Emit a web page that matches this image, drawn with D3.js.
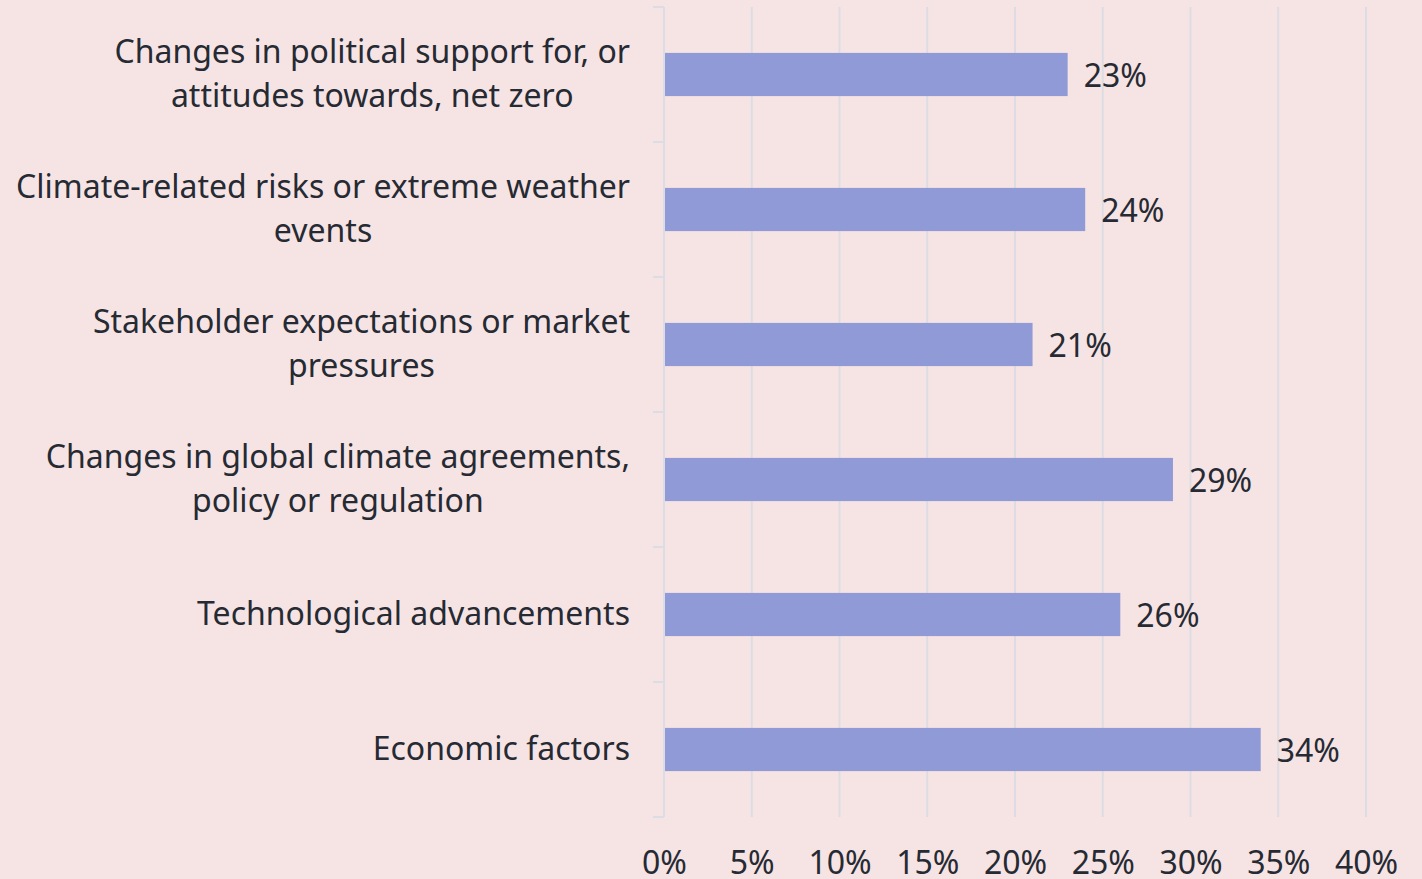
<!DOCTYPE html>
<html>
<head>
<meta charset="utf-8">
<script src="https://cdn.jsdelivr.net/npm/d3@7"></script>
<style>
  html, body { margin: 0; padding: 0; background: #f6e4e4; }
  svg { display: block; font-family: "Noto Sans", "Open Sans", sans-serif; }
</style>
</head>
<body>
<svg id="canvas"></svg>
<script>
let categories = [
    ['Changes in political support for, or', 'attitudes towards, net zero'],
    ['Climate-related risks or extreme weather', 'events'],
    ['Stakeholder expectations or market', 'pressures'],
    ['Changes in global climate agreements,', 'policy or regulation'],
    ['Technological advancements'],
    ['Economic factors']
]
let values = [23, 24, 21, 29, 26, 34]
let xTicks = [0, 5, 10, 15, 20, 25, 30, 35, 40]

let width = 1422
let height = 879
let plotLeft = 664
let plotRight = 1366
let plotTop = 7
let plotBottom = 817
let fontSize = 32

let canvas = d3.select('#canvas')
canvas.attr('width', width).attr('height', height)

let xScale = d3.scaleLinear()
    .domain([0, 40])
    .range([plotLeft, plotRight])
let yScale = d3.scaleBand()
    .domain(d3.range(values.length))
    .range([plotTop, plotBottom])
    .paddingInner(0.68)
    .paddingOuter(0.34)

// gridlines
canvas.append('g')
    .selectAll('line')
    .data(xTicks)
    .enter()
    .append('line')
    .attr('x1', (d) => xScale(d))
    .attr('x2', (d) => xScale(d))
    .attr('y1', plotTop)
    .attr('y2', plotBottom)
    .attr('stroke', '#dcdde4')
    .attr('stroke-width', 2)

// category axis with ticks at band boundaries
let step = yScale.step()
let boundaries = d3.range(values.length + 1).map((i) => plotTop + i * step)
canvas.append('line')
    .attr('x1', plotLeft).attr('x2', plotLeft)
    .attr('y1', plotTop).attr('y2', plotBottom)
    .attr('stroke', '#dcdde4')
    .attr('stroke-width', 2)
canvas.append('g')
    .selectAll('line')
    .data(boundaries)
    .enter()
    .append('line')
    .attr('x1', plotLeft - 11)
    .attr('x2', plotLeft)
    .attr('y1', (d) => d)
    .attr('y2', (d) => d)
    .attr('stroke', '#dcdde4')
    .attr('stroke-width', 2)

// bars
canvas.append('g')
    .selectAll('rect')
    .data(values)
    .enter()
    .append('rect')
    .attr('x', xScale(0) + 1)
    .attr('y', (d, i) => yScale(i))
    .attr('width', (d) => xScale(d) - xScale(0) - 1)
    .attr('height', yScale.bandwidth())
    .attr('fill', '#8f9ad7')

// value labels
canvas.append('g')
    .selectAll('text')
    .data(values)
    .enter()
    .append('text')
    .attr('x', (d) => xScale(d) + 16)
    .attr('y', (d, i) => yScale(i) + yScale.bandwidth() / 2 + 1)
    .attr('dy', '0.36em')
    .attr('font-size', fontSize)
    .attr('fill', '#262a33')
    .text((d) => d + '%')

// category labels: lines centred on each other, block right aligned
let lineH = 44
categories.forEach((lines, i) => {
    let cy = yScale(i) + yScale.bandwidth() / 2
    let g = canvas.append('g')
    let texts = lines.map((ln, j) => g.append('text')
        .attr('y', cy + (j - (lines.length - 1) / 2) * lineH - 1)
        .attr('dy', '0.36em')
        .attr('font-size', fontSize)
        .attr('fill', '#262a33')
        .attr('text-anchor', 'middle')
        .text(ln))
    let maxW = d3.max(texts, (t) => t.node().getComputedTextLength())
    texts.forEach((t) => t.attr('x', 630 - maxW / 2))
})

// x axis labels (sit right at the bottom edge, as in the original)
let xAxis = d3.axisBottom(xScale)
    .tickValues(xTicks)
    .tickFormat((d) => d + '%')
    .tickSize(0)
    .tickPadding(0)
let ax = canvas.append('g')
    .attr('transform', 'translate(0,' + 851 + ')')
    .call(xAxis)
ax.select('.domain').remove()
ax.selectAll('text')
    .attr('font-size', fontSize)
    .attr('font-family', '"Noto Sans", "Open Sans", sans-serif')
    .attr('fill', '#262a33')
</script>
</body>
</html>
